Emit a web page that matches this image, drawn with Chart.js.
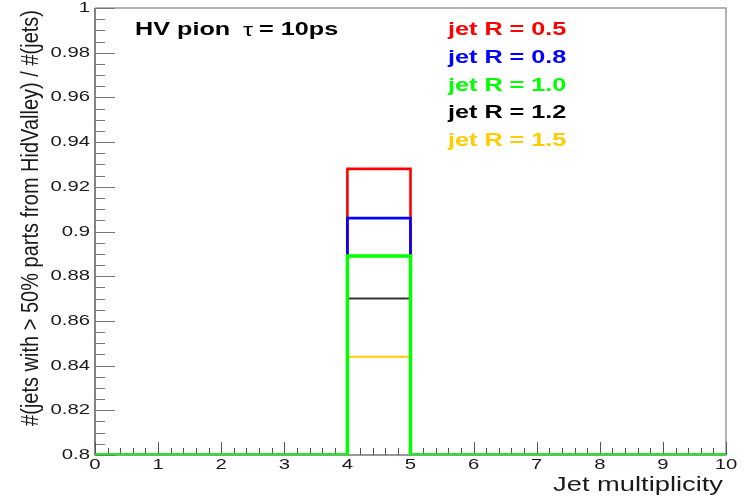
<!DOCTYPE html>
<html lang="en">
<head>
<meta charset="UTF-8">
<title>Jet multiplicity</title>
<script src="https://cdn.jsdelivr.net/npm/chart.js"></script>
<style>
    body { margin: 0; background: #fff; }
    #wrap { width: 745px; height: 497px; }
</style>
</head>
<body>
<div id="wrap"><canvas id="myChart1"></canvas></div>
<script>
    // histogram bins (jet multiplicity)
    const binEdges = [0, 1, 2, 3, 4, 5, 6, 7, 8, 9, 10];
    // fraction of jets from HidValley per bin, one array per jet radius (empty bins = 0)
    const fracR05 = [0, 0, 0, 0, 0.928, 0, 0, 0, 0, 0];
    const fracR08 = [0, 0, 0, 0, 0.906, 0, 0, 0, 0, 0];
    const fracR10 = [0, 0, 0, 0, 0.889, 0, 0, 0, 0, 0];
    const fracR12 = [0, 0, 0, 0, 0.870, 0, 0, 0, 0, 0];
    const fracR15 = [0, 0, 0, 0, 0.844, 0, 0, 0, 0, 0];
    const seriesLabels = ['jet R = 0.5', 'jet R = 0.8', 'jet R = 1.0', 'jet R = 1.2', 'jet R = 1.5'];
    const xTickLabels = ['0', '1', '2', '3', '4', '5', '6', '7', '8', '9', '10'];
    const yTickLabels = ['0.8', '0.82', '0.84', '0.86', '0.88', '0.9', '0.92', '0.94', '0.96', '0.98', '1'];

    const Y_MIN = 0.8, Y_MAX = 1;
    const FONT = '"Liberation Sans", Arial, sans-serif';
    const SX = 1.4; // text is drawn a bit wide

    // empty bins sit on the bottom of the frame like in ROOT
    function toSteps(values) {
        return binEdges.map((x, i) => ({ x: x, y: Math.max(values[Math.min(i, values.length - 1)], Y_MIN) }));
    }

    const lineColors = ['#ff0000', '#0000ff', '#00ff00', '#333333', '#ffcc00'];
    const textColors = ['#ff0000', '#0000ff', '#00ff00', '#000000', '#ffcc00'];
    const widths = [2.6, 2.6, 3.5, 2, 2];
    const drawOrder = [4, 3, 0, 2, 1]; // green on top, blue over red
    const allValues = [fracR05, fracR08, fracR10, fracR12, fracR15];

    function wideText(ctx, text, x, y, align) {
        ctx.save();
        ctx.translate(x, y);
        ctx.scale(SX, 1);
        ctx.textAlign = align;
        ctx.fillText(text, 0, 0);
        ctx.restore();
    }

    const frameAndText = {
        id: 'frameAndText',
        beforeDatasetsDraw(chart) {
            const { ctx, chartArea: a, scales: { x, y } } = chart;
            ctx.save();
            // frame
            ctx.lineWidth = 1.5;
            ctx.strokeStyle = '#9a9a9a';
            ctx.beginPath();
            ctx.moveTo(a.left, a.top); ctx.lineTo(a.right, a.top); ctx.lineTo(a.right, a.bottom);
            ctx.stroke();
            ctx.strokeStyle = '#333';
            ctx.lineWidth = 1.2;
            ctx.beginPath();
            ctx.moveTo(a.left, a.top); ctx.lineTo(a.left, a.bottom); ctx.lineTo(a.right, a.bottom);
            ctx.stroke();

            // y ticks, pointing inwards
            ctx.strokeStyle = '#777';
            ctx.lineWidth = 1;
            ctx.beginPath();
            for (let i = 0; i <= 40; i++) {
                const py = Math.round(y.getPixelForValue(Y_MIN + i * 0.005)) + 0.5;
                const len = (i % 4 === 0) ? 20 : 10;
                ctx.moveTo(a.left, py); ctx.lineTo(a.left + len, py);
            }
            ctx.stroke();
            // x ticks
            ctx.strokeStyle = '#555';
            ctx.beginPath();
            for (let i = 0; i <= 50; i++) {
                const px = Math.round(x.getPixelForValue(i * 0.2)) + 0.5;
                const len = (i % 5 === 0) ? 13 : 7;
                ctx.moveTo(px, a.bottom); ctx.lineTo(px, a.bottom - len);
            }
            ctx.stroke();
            ctx.restore();
        },
        afterDraw(chart) {
            const { ctx, chartArea: a, scales: { x, y } } = chart;
            ctx.save();
            ctx.fillStyle = '#1a1a1a';
            ctx.textBaseline = 'middle';

            // tick labels
            ctx.font = '14.5px ' + FONT;
            yTickLabels.forEach(t => wideText(ctx, t, a.left - 5, y.getPixelForValue(Number(t)), 'right'));
            xTickLabels.forEach(t => wideText(ctx, t, x.getPixelForValue(Number(t)), a.bottom + 10, 'center'));

            // axis titles
            ctx.font = '19.5px ' + FONT;
            wideText(ctx, 'Jet multiplicity', a.right - 3, a.bottom + 31, 'right');
            ctx.save();
            ctx.translate(32, a.top + 2);
            ctx.rotate(-Math.PI / 2);
            ctx.scale(1, 1.15);
            ctx.font = '20px ' + FONT;
            ctx.textAlign = 'right';
            ctx.fillText('#(jets with > 50% parts from HidValley) / #(jets)', 0, 0);
            ctx.restore();

            // title
            ctx.fillStyle = '#000';
            ctx.font = 'bold 18px ' + FONT;
            wideText(ctx, 'HV pion', 135, 30, 'left');
            ctx.font = '18px ' + FONT;
            wideText(ctx, 'τ', 243, 31, 'left');
            ctx.font = 'bold 18px ' + FONT;
            wideText(ctx, '= 10ps', 259, 30, 'left');

            // legend
            seriesLabels.forEach((lab, i) => {
                ctx.fillStyle = textColors[i];
                wideText(ctx, lab, 448, 30 + i * 27.8, 'left');
            });
            ctx.restore();
        }
    };

    const ctx = document.getElementById('myChart1');
    const myChart1 = new Chart(ctx, {
        type: 'line',
        data: {
            datasets: allValues.map((v, i) => ({
                label: seriesLabels[i],
                data: toSteps(v),
                stepped: 'before',
                borderColor: lineColors[i],
                borderWidth: widths[i],
                borderJoinStyle: 'miter',
                borderCapStyle: 'butt',
                backgroundColor: 'rgba(0,0,0,0)',
                pointRadius: 0,
                fill: false,
                order: drawOrder[i]
            }))
        },
        options: {
            responsive: true,
            maintainAspectRatio: false,
            animation: false,
            layout: { padding: { left: 95, top: 8, right: 19, bottom: 42 } },
            scales: {
                x: { type: 'linear', min: 0, max: 10, display: false },
                y: { min: Y_MIN, max: Y_MAX, display: false }
            },
            plugins: { legend: { display: false }, tooltip: { enabled: false } }
        },
        plugins: [frameAndText]
    });
</script>
</body>
</html>
